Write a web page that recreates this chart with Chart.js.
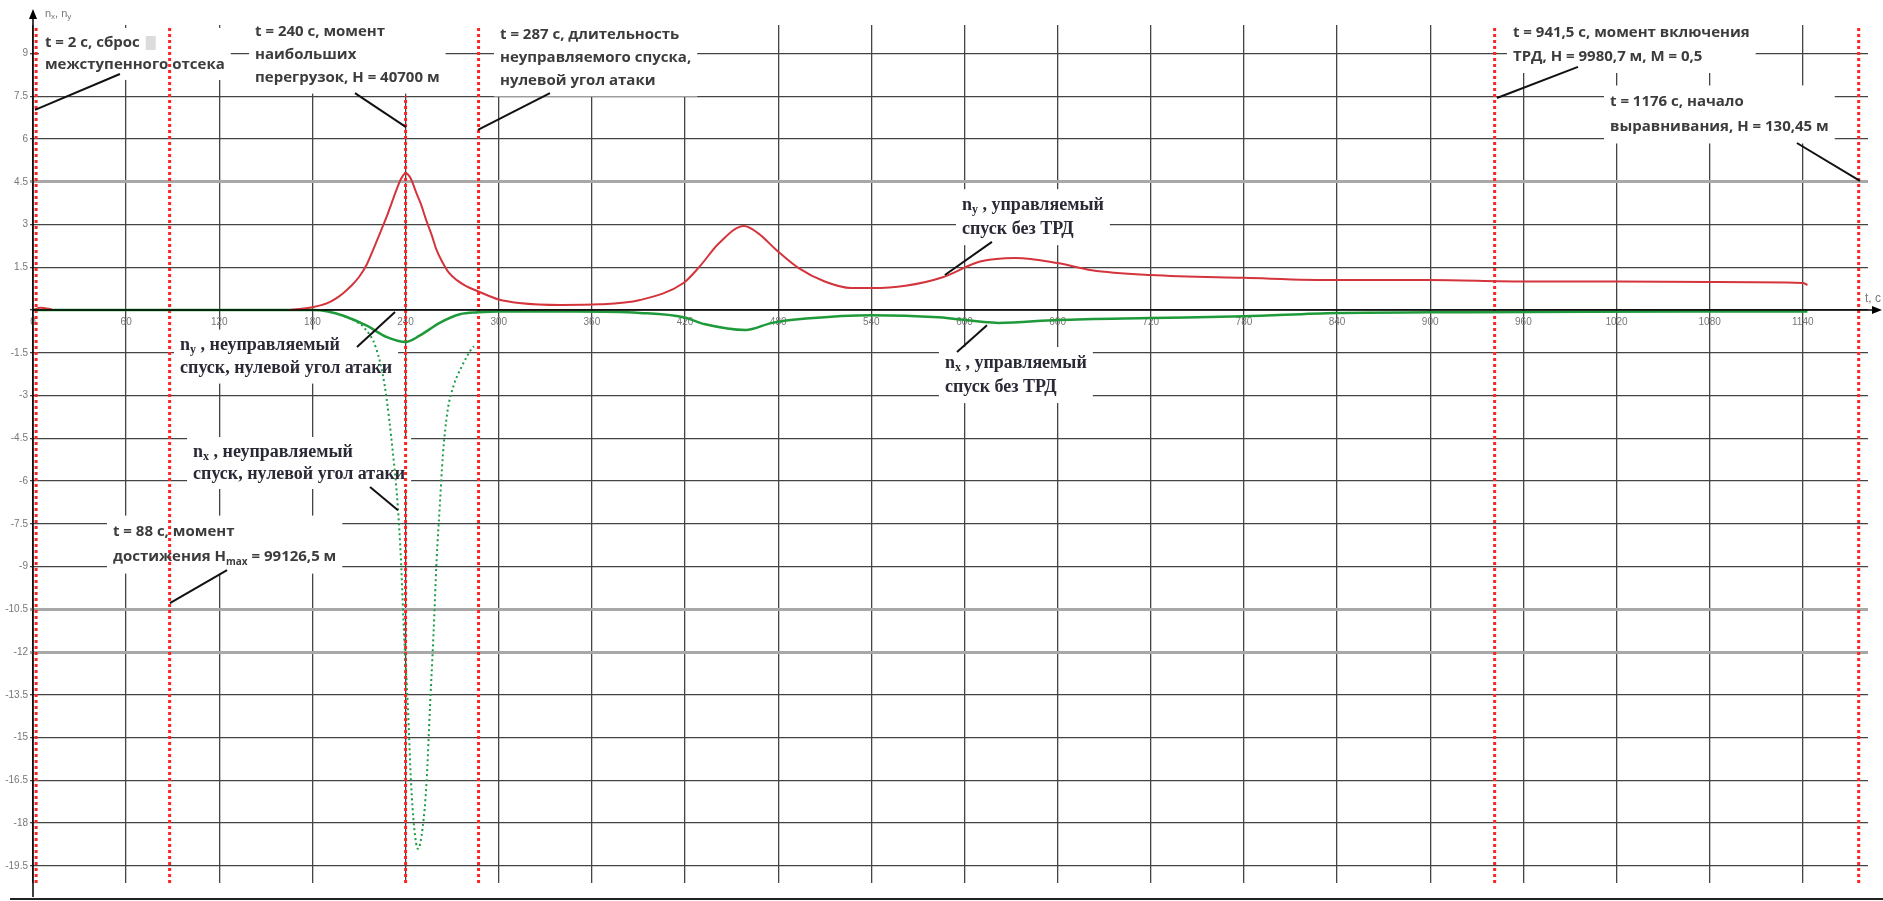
<!DOCTYPE html>
<html>
<head>
<meta charset="utf-8">
<script src="https://cdn.jsdelivr.net/npm/chart.js@4.4.1/dist/chart.umd.min.js"></script>
<style>
  html, body { margin: 0; padding: 0; background: #fff; overflow: hidden; }
  #loadChart { display: block; }
</style>
</head>
<body>
<canvas id="loadChart" width="1883" height="901"></canvas>
<script>
// axis ticks
const xTickValues = [0, 60, 120, 180, 240, 300, 360, 420, 480, 540, 600, 660, 720, 780, 840, 900, 960, 1020, 1080, 1140];
const yTickValues = [-19.5, -18, -16.5, -15, -13.5, -12, -10.5, -9, -7.5, -6, -4.5, -3, -1.5, 0, 1.5, 3, 4.5, 6, 7.5, 9];

// n_y, controlled descent without turbojet (null = gap)
const tNyCtrl = [0, 5, 12, 14, 165, 180, 190, 195, 200, 205, 210, 215, 219, 222, 228, 234, 237, 240, 243, 247, 250, 253, 257, 260, 264, 268, 273, 279, 287, 300, 313, 340, 365, 391, 419, 429, 442, 458, 467, 479, 493, 510, 527, 540, 562, 586, 610, 633, 660, 682, 720, 780, 840, 900, 960, 1020, 1080, 1140, 1143];
const nyCtrl = [0, 0.08, 0.03, null, 0, 0.1, 0.25, 0.4, 0.6, 0.85, 1.16, 1.6, 2.1, 2.5, 3.3, 4.2, 4.6, 4.8, 4.65, 4.1, 3.7, 3.2, 2.6, 2.1, 1.65, 1.3, 1.05, 0.84, 0.65, 0.37, 0.25, 0.18, 0.2, 0.35, 0.95, 1.5, 2.35, 2.95, 2.7, 2.1, 1.48, 1.0, 0.77, 0.77, 0.85, 1.15, 1.7, 1.83, 1.65, 1.4, 1.23, 1.13, 1.05, 1.05, 1.0, 1.0, 0.98, 0.95, 0.88];

// n_x, controlled descent without turbojet
const tNxCtrl = [0, 100, 180, 190, 200, 215, 228, 240, 249, 262, 275, 287, 300, 350, 391, 419, 433, 459, 476, 498, 540, 583, 622, 660, 720, 780, 840, 900, 1000, 1143];
const nxCtrl = [0, 0, 0, -0.05, -0.2, -0.55, -0.95, -1.12, -0.9, -0.45, -0.15, -0.08, -0.05, -0.05, -0.1, -0.25, -0.5, -0.7, -0.45, -0.3, -0.18, -0.25, -0.45, -0.35, -0.28, -0.22, -0.1, -0.08, -0.06, -0.05];

// n_x, uncontrolled descent, zero angle of attack
const tNxFree = [200, 208, 213.5, 221, 226.5, 232, 235, 237, 239, 241.5, 243.5, 245.5, 248, 251, 253.5, 255.7, 258, 260, 262, 264, 267, 271, 276, 282, 284];
const nxFree = [-0.2, -0.4, -0.63, -1.34, -2.64, -5.1, -6.9, -8.75, -11.35, -13.95, -16.57, -18.15, -18.9, -18.15, -16.57, -13.95, -11.35, -8.75, -6.9, -5.1, -3.55, -2.64, -2.0, -1.4, -1.27];

// event moments (red dotted verticals)
const markerTimes = [2, 88, 240, 287, 941.5, 1176];
const markerTops = [10, 10, 7.5, 10, 10, 10];
const markerBottom = -20.1;

// callouts: anchor (t, n) of first line, leader from/to in (t, n)
const notes = [
    { t: 7.7, n: 9.37, lh: 22, lines: ['t = 2 с, сброс', 'межступенного отсека'], from: [56, 8.28], to: [1.3, 7.02], mark: true },
    { t: 143, n: 9.75, lh: 23, lines: ['t = 240 с, момент', 'наибольших', 'перегрузок, Н = 40700 м'], from: [207.4, 7.61], to: [240.3, 6.42] },
    { t: 300.8, n: 9.65, lh: 23, lines: ['t = 287 с, длительность', 'неуправляемого спуска,', 'нулевой угол атаки'], from: [333, 7.61], to: [286.6, 6.32] },
    { t: 953.3, n: 9.72, lh: 24, lines: ['t = 941,5 с, момент включения', 'ТРД, Н = 9980,7 м, М = 0,5'], from: [995.2, 8.53], to: [943, 7.44] },
    { t: 1015.8, n: 7.3, lh: 25, lines: ['t = 1176 с, начало', 'выравнивания, Н = 130,45 м'], from: [1136.2, 5.86], to: [1176.8, 4.53] },
    { t: 51.5, n: -7.79, lh: 25, lines: ['t = 88 с, момент', 'достижения H_{max} = 99126,5 м'], from: [125, -9.12], to: [88.2, -10.28] },
    { t: 598.4, n: 3.68, lh: 24, serif: true, lines: ['n_{y} , управляемый', 'спуск без ТРД'], from: [617.7, 2.39], to: [587.4, 1.23] },
    { t: 587.4, n: -1.86, lh: 24, serif: true, lines: ['n_{x} , управляемый', 'спуск без ТРД'], from: [614.5, -0.53], to: [595.2, -1.47] },
    { t: 94.7, n: -1.23, lh: 23, serif: true, lines: ['n_{y} , неуправляемый', 'спуск, нулевой угол атаки'], from: [208.7, -1.3], to: [233.2, -0.07] },
    { t: 103.1, n: -4.98, lh: 22, serif: true, lines: ['n_{x} , неуправляемый', 'спуск, нулевой угол атаки'], from: [217.1, -6.21], to: [235.1, -7.02] }
];

function toPoints(ts, vs)
{
    return ts.map((t, i) => ({ x: t, y: vs[i] }));
}

// split "n_{y}" style markup into normal and subscript pieces
function parseLine(s)
{
    const parts = [];
    const re = /_\{([^}]*)\}/g;
    let last = 0, m;
    while ((m = re.exec(s)) !== null) {
        if (m.index > last) parts.push({ text: s.slice(last, m.index), sub: false });
        parts.push({ text: m[1], sub: true });
        last = re.lastIndex;
    }
    if (last < s.length) parts.push({ text: s.slice(last), sub: false });
    return parts;
}

function noteFont(note, sub)
{
    if (note.serif) {
        return 'bold ' + (sub ? 12 : 18) + 'px "Liberation Serif"';
    }
    return 'bold ' + (sub ? 10 : 15) + 'px "Open Sans"';
}

function lineWidth(ctx, note, line)
{
    let w = 0;
    parseLine(line).forEach(p => {
        ctx.font = noteFont(note, p.sub);
        w += ctx.measureText(p.text).width;
    });
    return w;
}

function drawLine(ctx, note, line, x, y)
{
    parseLine(line).forEach(p => {
        ctx.font = noteFont(note, p.sub);
        ctx.fillText(p.text, x, p.sub ? y + 5 : y);
        x += ctx.measureText(p.text).width;
    });
}

const notesPlugin = {
    id: 'notes',
    beforeDatasetsDraw(chart) {
        const ctx = chart.ctx;
        const xs = chart.scales.x, ys = chart.scales.y;
        ctx.save();
        ctx.fillStyle = '#ffffff';
        notes.forEach(note => {
            const x = xs.getPixelForValue(note.t);
            const y = ys.getPixelForValue(note.n);
            let w = 0;
            note.lines.forEach(l => { w = Math.max(w, lineWidth(ctx, note, l)); });
            ctx.fillRect(x - 6, y - note.lh / 2 - 4, w + 12, note.lines.length * note.lh + 8);
        });
        ctx.restore();
    },
    afterDatasetsDraw(chart) {
        const ctx = chart.ctx;
        const xs = chart.scales.x, ys = chart.scales.y;
        ctx.save();
        notes.forEach(note => {
            // leader line
            ctx.strokeStyle = '#111';
            ctx.lineWidth = 2;
            ctx.beginPath();
            ctx.moveTo(xs.getPixelForValue(note.from[0]), ys.getPixelForValue(note.from[1]));
            ctx.lineTo(xs.getPixelForValue(note.to[0]), ys.getPixelForValue(note.to[1]));
            ctx.stroke();

            const x = xs.getPixelForValue(note.t);
            const y = ys.getPixelForValue(note.n);
            ctx.fillStyle = note.serif ? '#2a2a36' : '#3c3c3c';
            ctx.textBaseline = 'middle';
            ctx.textAlign = 'left';
            note.lines.forEach((l, i) => drawLine(ctx, note, l, x, y + i * note.lh));
            if (note.mark) {
                const w0 = lineWidth(ctx, note, note.lines[0]);
                ctx.fillStyle = '#dcdcdc';
                ctx.fillRect(x + w0 + 6, y - 7, 10, 14);
            }
        });
        ctx.restore();
    },
    afterDraw(chart) {
        const ctx = chart.ctx;
        const area = chart.chartArea;
        const y0 = chart.scales.y.getPixelForValue(0);
        const x0 = chart.scales.x.getPixelForValue(0);
        ctx.save();
        ctx.strokeStyle = '#000';
        ctx.fillStyle = '#000';
        ctx.lineWidth = 1.5;
        // y axis with arrow
        ctx.beginPath();
        ctx.moveTo(x0, area.bottom + 14);
        ctx.lineTo(x0, area.top - 10);
        ctx.stroke();
        ctx.beginPath();
        ctx.moveTo(x0, area.top - 16);
        ctx.lineTo(x0 - 4, area.top - 6);
        ctx.lineTo(x0 + 4, area.top - 6);
        ctx.closePath();
        ctx.fill();
        // x axis with arrow
        ctx.beginPath();
        ctx.moveTo(x0, y0);
        ctx.lineTo(area.right + 8, y0);
        ctx.stroke();
        ctx.beginPath();
        ctx.moveTo(area.right + 14, y0);
        ctx.lineTo(area.right + 4, y0 - 4);
        ctx.lineTo(area.right + 4, y0 + 4);
        ctx.closePath();
        ctx.fill();
        // bottom frame line
        ctx.lineWidth = 2;
        ctx.strokeStyle = '#222';
        ctx.beginPath();
        ctx.moveTo(10, chart.height - 2);
        ctx.lineTo(chart.width, chart.height - 2);
        ctx.stroke();
        // axis names
        ctx.fillStyle = '#777';
        ctx.textBaseline = 'middle';
        ctx.textAlign = 'left';
        let ax = x0 + 12;
        [['n', false], ['x', true], [', n', false], ['y', true]].forEach(p => {
            ctx.font = (p[1] ? '8px' : '11px') + ' "Liberation Sans"';
            ctx.fillText(p[0], ax, area.top - 11 + (p[1] ? 3 : 0));
            ax += ctx.measureText(p[0]).width;
        });
        ctx.font = '12px "Liberation Sans"';
        ctx.fillText('t, с', area.right - 3, y0 - 11);
        ctx.restore();
    }
};

const softLines = [4.5, -10.5, -12];

const datasets = [
    {
        label: 'ny',
        data: toPoints(tNyCtrl, nyCtrl),
        borderColor: '#d4343c',
        borderWidth: 2,
        pointRadius: 0,
        cubicInterpolationMode: 'monotone',
        spanGaps: false
    },
    {
        label: 'nx',
        data: toPoints(tNxCtrl, nxCtrl),
        borderColor: '#1f9a3a',
        borderWidth: 2.5,
        pointRadius: 0,
        cubicInterpolationMode: 'monotone'
    },
    {
        label: 'nx free',
        data: toPoints(tNxFree, nxFree),
        borderColor: '#1c9c44',
        borderWidth: 2,
        borderDash: [2, 3],
        pointRadius: 0,
        cubicInterpolationMode: 'monotone'
    }
];

markerTimes.forEach((t, i) => {
    datasets.push({
        label: 'm' + i,
        data: [{ x: t, y: markerBottom }, { x: t, y: markerTops[i] }],
        borderColor: '#ff2424',
        borderWidth: 3,
        borderDash: [3, 3],
        pointRadius: 0
    });
});

new Chart(document.getElementById('loadChart'), {
    type: 'line',
    data: { datasets: datasets },
    options: {
        responsive: false,
        animation: false,
        devicePixelRatio: 1,
        events: [],
        layout: { padding: { top: 25, right: 15, bottom: 18, left: 0 } },
        plugins: {
            legend: { display: false },
            tooltip: { enabled: false }
        },
        scales: {
            x: {
                type: 'linear',
                min: 0,
                max: 1182,
                position: { y: 0 },
                afterBuildTicks: s => { s.ticks = xTickValues.map(v => ({ value: v })); },
                grid: { color: '#444', lineWidth: 1.3, drawTicks: false },
                border: { display: false },
                ticks: {
                    autoSkip: false,
                    maxRotation: 0,
                    padding: 6,
                    color: '#777',
                    font: { family: 'Liberation Sans', size: 10 },
                    callback: v => String(v)
                }
            },
            y: {
                type: 'linear',
                min: -20.1,
                max: 10,
                afterBuildTicks: s => { s.ticks = yTickValues.map(v => ({ value: v })); },
                afterFit: s => { s.width = 33; },
                grid: {
                    color: c => softLines.includes(c.tick && c.tick.value) ? '#a8a8a8' : '#444',
                    lineWidth: c => softLines.includes(c.tick && c.tick.value) ? 3 : 1.3,
                    tickLength: 3
                },
                border: { display: false },
                ticks: {
                    autoSkip: false,
                    padding: 2,
                    color: '#777',
                    font: { family: 'Liberation Sans', size: 10 },
                    callback: v => v === 0 ? '' : String(v)
                }
            }
        }
    },
    plugins: [notesPlugin]
});
</script>
</body>
</html>
